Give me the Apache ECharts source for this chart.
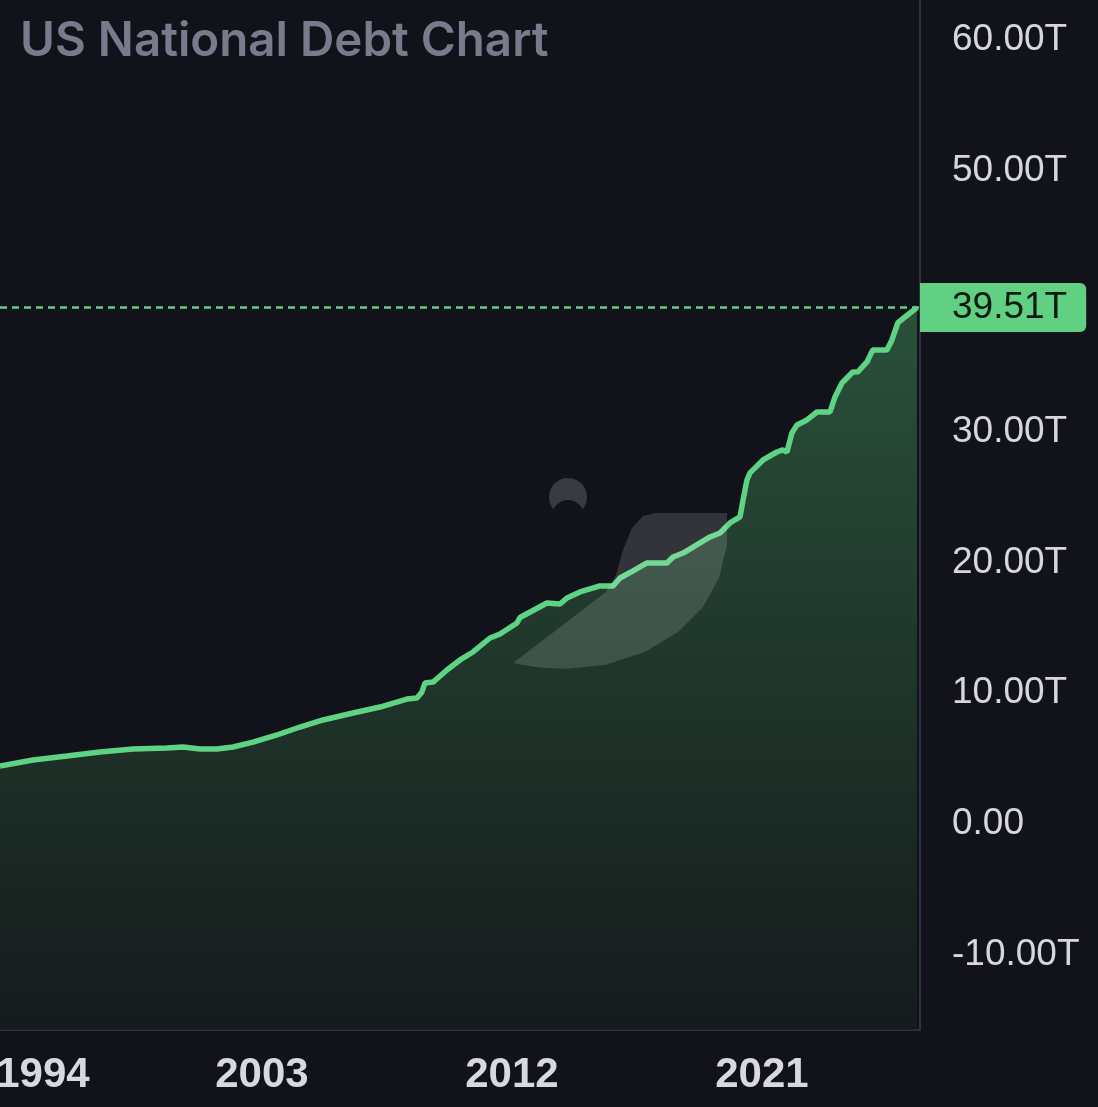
<!DOCTYPE html>
<html>
<head>
<meta charset="utf-8">
<script src="https://cdn.jsdelivr.net/npm/echarts@6/dist/echarts.min.js"></script>
<style>
  html, body { margin: 0; padding: 0; background: #12131a; }
  #main { width: 1098px; height: 1107px; }
</style>
</head>
<body>
<div id="main"></div>
<script>
// 美国国债（万亿美元），按年份小数读取
var years = [
  1993.57, 1994.76, 1995.98, 1997.17, 1998.36, 1999.58, 2000.16, 2000.77, 2001.38, 2001.96,
  2002.68, 2003.54, 2004.37, 2005.20, 2006.28, 2007.25, 2008.22, 2008.58, 2008.76, 2008.87,
  2009.16, 2009.66, 2010.13, 2010.60, 2011.21, 2011.57, 2012.18, 2012.29, 2013.26, 2013.73,
  2013.98, 2014.45, 2015.17, 2015.64, 2015.89, 2016.36, 2016.86, 2017.58, 2017.80, 2018.16,
  2018.52, 2019.13, 2019.49, 2019.85, 2020.21, 2020.32, 2020.46, 2020.57, 2021.04, 2021.54,
  2021.75, 2021.90, 2022.08, 2022.26, 2022.62, 2022.98, 2023.45, 2023.63, 2023.88, 2024.27,
  2024.45, 2024.78, 2024.99, 2025.50, 2025.68, 2025.89, 2026.15, 2026.58
];
var debt = [
  4.44, 4.90, 5.20, 5.51, 5.74, 5.81, 5.89, 5.74, 5.74, 5.89,
  6.27, 6.81, 7.42, 7.96, 8.49, 8.95, 9.56, 9.64, 10.10, 10.79,
  10.86, 11.78, 12.55, 13.16, 14.23, 14.54, 15.38, 15.80, 16.91, 16.83,
  17.29, 17.75, 18.21, 18.21, 18.82, 19.36, 19.97, 19.97, 20.43, 20.73,
  21.19, 21.96, 22.26, 23.03, 23.49, 24.79, 26.32, 26.86, 27.85, 28.46,
  28.62, 28.46, 29.92, 30.53, 30.91, 31.52, 31.52, 32.67, 33.74, 34.58,
  34.58, 35.35, 36.27, 36.27, 37.03, 38.33, 38.79, 39.51
];
var xTicks = [1994, 2003, 2012, 2021];
var yTicks = [-10, 0, 10, 20, 30, 50, 60];

(function () {
  var myChart = echarts.init(document.getElementById('main'));
  var points = [];
  for (var i = 0; i < years.length; i++) {
    points.push([years[i], debt[i]]);
  }
  var last = debt[debt.length - 1];

  var option = {
    backgroundColor: '#12131a',
    animation: false,
    title: {
      text: 'US National Debt Chart',
      left: 15,
      top: 13,
      textStyle: {
        color: '#787b8c',
        fontSize: 47.5,
        fontWeight: 600,
        fontFamily: 'Inter'
      }
    },
    grid: { left: 0, right: 178, top: 0, bottom: 77, outerBoundsMode: 'none' },
    xAxis: {
      type: 'value',
      min: 1993.57,
      max: 2026.69,
      axisLine: { show: true, onZero: false, lineStyle: { color: '#2e3142', width: 2 } },
      axisTick: { show: false },
      splitLine: { show: false },
      axisLabel: {
        customValues: xTicks,
        margin: 24,
        color: '#d8d9de',
        fontSize: 42,
        fontWeight: 'bold',
        fontFamily: 'Liberation Sans',
        formatter: function (v) {
          if (v === xTicks[0]) {
            return '{first|' + v + '}';
          }
          return String(v);
        },
        rich: {
          first: {
            padding: [0, 0, 0, 62],
            color: '#d8d9de',
            fontSize: 42,
            fontWeight: 'bold',
            fontFamily: 'Liberation Sans'
          }
        }
      }
    },
    yAxis: {
      type: 'value',
      position: 'right',
      min: -15.76,
      max: 63.04,
      axisLine: { show: true, lineStyle: { color: '#2e3142', width: 2 } },
      axisTick: { show: false },
      splitLine: { show: false },
      axisLabel: {
        customValues: yTicks,
        margin: 32,
        padding: [6, 0, 0, 0],
        color: '#d6d7dc',
        fontSize: 37,
        fontFamily: 'Liberation Sans',
        formatter: function (v) {
          if (v === 0) return '0.00';
          return v.toFixed(2) + 'T';
        }
      }
    },
    // 背景水印
    graphic: [
      {
        type: 'polygon',
        z: 10,
        silent: true,
        shape: {
          points: [[656, 513], [727, 513], [727, 545], [719, 578], [703, 607], [678, 632],
            [645, 652], [605, 665], [565, 669], [535, 667], [513, 663], [606, 592], [616, 575],
            [623, 550], [632, 528], [643, 516]]
        },
        style: { fill: 'rgba(255,255,255,0.14)' }
      },
      {
        type: 'circle',
        z: 10,
        silent: true,
        shape: { cx: 568, cy: 497, r: 19 },
        style: { fill: 'rgba(255,255,255,0.17)' }
      },
      {
        type: 'circle',
        z: 11,
        silent: true,
        shape: { cx: 568, cy: 516, r: 16 },
        style: { fill: '#12131a' }
      }
    ],
    series: [
      {
        type: 'line',
        data: points,
        showSymbol: false,
        smooth: false,
        lineStyle: { color: '#5fd384', width: 5.5 },
        areaStyle: {
          origin: 'start',
          color: new echarts.graphic.LinearGradient(0, 0, 0, 1, [
            { offset: 0, color: '#346b47' },
            { offset: 1, color: '#171e1d' }
          ])
        },
        markLine: {
          silent: true,
          symbol: 'none',
          lineStyle: { color: '#5fd384', type: [7, 5], width: 2.5 },
          label: {
            position: 'end',
            distance: 0,
            formatter: last.toFixed(2) + 'T',
            backgroundColor: '#62d082',
            color: '#0c1a11',
            fontSize: 37,
            fontFamily: 'Liberation Sans',
            lineHeight: 37,
            padding: [9, 19, 3, 32],
            borderRadius: [0, 6, 6, 0]
          },
          data: [{ yAxis: last }]
        }
      }
    ]
  };
  myChart.setOption(option);
})();
</script>
</body>
</html>
